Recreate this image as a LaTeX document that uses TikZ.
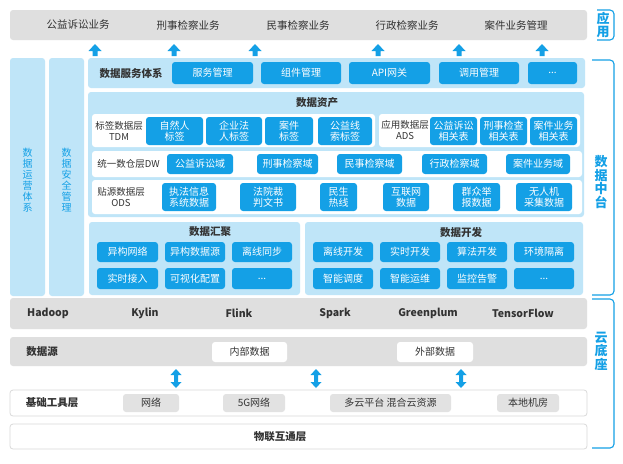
\documentclass[tikz,border=0pt]{standalone}
\usepackage{fontspec}
\setmainfont{Noto Sans CJK SC}
\definecolor{gbar}{HTML}{DFDFDF}
\definecolor{gbtn}{HTML}{E2E2E2}
\definecolor{lb}{HTML}{BFE5F8}
\definecolor{bb}{HTML}{14A0E6}
\definecolor{tx}{HTML}{333333}
\definecolor{bord}{HTML}{DADADA}
\tikzset{
  base/.style={inner sep=0pt,outer sep=0pt,align=center},
  greybar/.style={base,fill=gbar,rounded corners=3pt},
  panel/.style={base,fill=lb,rounded corners=3pt},
  btn/.style={base,fill=bb,text=white,rounded corners=3pt,font=\fontsize{10}{11}\selectfont},
  wrow/.style={base,fill=white,rounded corners=3pt},
  wbar/.style={base,fill=white,draw=bord,line width=0.8pt,rounded corners=3pt},
  wbtn/.style={base,fill=white,text=tx,rounded corners=3pt,font=\fontsize{10}{11}\selectfont},
  gbtnst/.style={base,fill=gbtn,text=tx,rounded corners=3pt,font=\fontsize{10}{11}\selectfont},
  lbl/.style={base,text=tx,font=\fontsize{9.5}{11}\selectfont},
  ttl/.style={base,text=tx,font=\bfseries\fontsize{10.5}{12}\selectfont},
  toptxt/.style={base,text=tx,font=\fontsize{10.5}{12}\selectfont},
  coltxt/.style={base,text=bb,font=\fontsize{10}{11}\selectfont},
  sidetxt/.style={base,text=bb,font=\bfseries\fontsize{13}{13.5}\selectfont},
  brk/.style={draw=bb,line width=1.1pt,rounded corners=4pt},
  arr/.style={fill=bb},
  uparrow/.pic={\fill[arr] (-6.5,7) -- (0,0) -- (6.5,7) -- (2.5,7) -- (2.5,12) -- (-2.5,12) -- (-2.5,7) -- cycle;},
  dblarrow/.pic={\fill[arr] (0,0) -- (5.5,6) -- (2,6) -- (2,13) -- (5.5,13) -- (0,19) -- (-5.5,13) -- (-2,13) -- (-2,6) -- (-5.5,6) -- cycle;}
}
\newcommand\bx[7]{%
  \pgfmathsetmacro\bxw{#5-#3}\pgfmathsetmacro\bxh{#6-#4}%
  \pgfmathsetmacro\bxx{(#3+#5)/2}\pgfmathsetmacro\bxy{(#4+#6)/2}%
  \node[#2,minimum width=\bxw pt,minimum height=\bxh pt] (#1) at (\bxx,\bxy) {#7};}
\begin{document}
\begin{tikzpicture}[x=1pt,y=-1pt]
\useasboundingbox[fill=white] (0,0) rectangle (623,463);
% application layer
\bx{app}{greybar}{10}{10}{587}{40}{}
\node[toptxt] (a1) at (78,25) {公益诉讼业务};
\node[toptxt] (a2) at (188,25) {刑事检察业务};
\node[toptxt] (a3) at (298,25) {民事检察业务};
\node[toptxt] (a4) at (407,25) {行政检察业务};
\node[toptxt] (a5) at (516,25) {案件业务管理};
\foreach \x in {95,174,255,378,459,542} \pic at (\x,44) {uparrow};
% left columns
\bx{ops}{panel}{10}{58}{45}{296}{}
\bx{sec}{panel}{49}{58}{84}{296}{}
\node[coltxt] (opst) at (27.5,180) {数\\据\\运\\营\\体\\系};
\node[coltxt] (sect) at (66.5,180) {数\\据\\安\\全\\管\\理};
% data service
\bx{svc}{panel}{88}{58}{585}{88}{}
\node[ttl] (svct) at (131,73) {数据服务体系};
\bx{s1}{btn}{172}{62}{253}{84}{服务管理}
\bx{s2}{btn}{261}{62}{341}{84}{组件管理}
\bx{s3}{btn}{349}{62}{430}{84}{API网关}
\bx{s4}{btn}{439}{62}{519}{84}{调用管理}
\bx{s5}{btn}{528}{62}{577}{84}{...}
% data assets
\bx{asset}{panel}{88}{92}{584}{217}{}
\node[ttl] (assett) at (317,103) {数据资产};
\bx{tdm}{wrow}{92}{114}{375}{147}{}
\node[lbl] (tdml) at (119,130.5) {标签数据层\\TDM};
\bx{t1}{btn}{146}{117}{203}{145}{自然人\\标签}
\bx{t2}{btn}{206}{117}{262}{145}{企业法\\人标签}
\bx{t3}{btn}{265}{117}{313}{145}{案件\\标签}
\bx{t4}{btn}{318}{117}{372}{145}{公益线\\索标签}
\bx{ads}{wrow}{379}{114}{580}{147}{}
\node[lbl] (adsl) at (405,130.5) {应用数据层\\ADS};
\bx{d1}{btn}{430}{117}{477}{145}{公益诉讼\\相关表}
\bx{d2}{btn}{480}{117}{527}{145}{刑事检查\\相关表}
\bx{d3}{btn}{530}{117}{577}{145}{案件业务\\相关表}
\bx{dw}{wrow}{92}{151}{582}{177}{}
\node[lbl] (dwl) at (128.5,164) {统一数仓层DW};
\bx{w1}{btn}{167}{154}{233}{174}{公益诉讼域}
\bx{w2}{btn}{257}{154}{318}{174}{刑事检察域}
\bx{w3}{btn}{337}{154}{402}{174}{民事检察域}
\bx{w4}{btn}{422}{154}{487}{174}{行政检察域}
\bx{w5}{btn}{506}{154}{570}{174}{案件业务域}
\bx{ods}{wrow}{92}{180}{582}{214}{}
\node[lbl] (odsl) at (121,197) {贴源数据层\\ODS};
\bx{o1}{btn}{162}{183}{216}{211}{执法信息\\系统数据}
\bx{o2}{btn}{240}{183}{296}{211}{法院裁\\判文书}
\bx{o3}{btn}{320}{183}{357}{211}{民生\\热线}
\bx{o4}{btn}{383}{183}{429}{211}{互联网\\数据}
\bx{o5}{btn}{453}{183}{500}{211}{群众举\\报数据}
\bx{o6}{btn}{516}{183}{572}{211}{无人机\\采集数据}
% data aggregation
\bx{agg}{panel}{89}{222}{300}{295}{}
\node[ttl] (aggt) at (210,232) {数据汇聚};
\bx{g1}{btn}{97}{242}{158}{262}{异构网络}
\bx{g2}{btn}{165}{242}{225}{262}{异构数据源}
\bx{g3}{btn}{232}{242}{292}{262}{离线同步}
\bx{g4}{btn}{97}{268}{158}{289}{实时接入}
\bx{g5}{btn}{165}{268}{225}{289}{可视化配置}
\bx{g6}{btn}{232}{268}{292}{289}{...}
% data development
\bx{dev}{panel}{305}{222}{583}{295}{}
\node[ttl] (devt) at (461,232) {数据开发};
\bx{v1}{btn}{313}{242}{373}{262}{离线开发}
\bx{v2}{btn}{380}{242}{440}{262}{实时开发}
\bx{v3}{btn}{447}{242}{507}{262}{算法开发}
\bx{v4}{btn}{514}{242}{574}{262}{环境隔离}
\bx{v5}{btn}{313}{268}{373}{289}{智能调度}
\bx{v6}{btn}{380}{268}{440}{289}{智能运维}
\bx{v7}{btn}{447}{268}{507}{289}{监控告警}
\bx{v8}{btn}{514}{268}{574}{289}{...}
% engines
\bx{eng}{greybar}{10}{298}{587}{329}{}
\node[ttl] (e1) at (48,313.5) {Hadoop};
\node[ttl] (e2) at (145,313.5) {Kylin};
\node[ttl] (e3) at (239,313.5) {Flink};
\node[ttl] (e4) at (335,313.5) {Spark};
\node[ttl] (e5) at (428,313.5) {Greenplum};
\node[ttl] (e6) at (523,313.5) {TensorFlow};
% data source
\bx{src}{greybar}{10}{337}{587}{366}{}
\node[ttl] (srct) at (42,351.5) {数据源};
\bx{src1}{wbtn}{212}{342}{287}{362}{内部数据}
\bx{src2}{wbtn}{397}{342}{473}{362}{外部数据}
\foreach \x in {176,316,461} \pic at (\x,369) {dblarrow};
% base tools
\bx{tool}{wbar}{10}{390}{587}{416}{}
\node[ttl] (toolt) at (52,403) {基础工具层};
\bx{b1}{gbtnst}{123}{394}{179}{412}{网络}
\bx{b2}{gbtnst}{223}{394}{285}{412}{5G网络}
\bx{b3}{gbtnst}{330}{394}{451}{412}{多云平台 混合云资源}
\bx{b4}{gbtnst}{497}{394}{559}{412}{本地机房}
% iot
\bx{iot}{wbar}{10}{424}{587}{449}{}
\node[ttl] (iott) at (280,437) {物联互通层};
% side brackets
\draw[brk] (597,10) -- (614,10) -- (614,40) -- (597,40);
\node[sidetxt] (appt) at (603,25) {应\\用};
\draw[brk] (592,60) -- (614,60) -- (614,295) -- (592,295);
\node[sidetxt] (midt) at (601,182) {数\\据\\中\\台};
\draw[brk] (592,299) -- (614,299) -- (614,448) -- (592,448);
\node[sidetxt] (baset) at (601,351) {云\\底\\座};
\end{tikzpicture}
\end{document}
